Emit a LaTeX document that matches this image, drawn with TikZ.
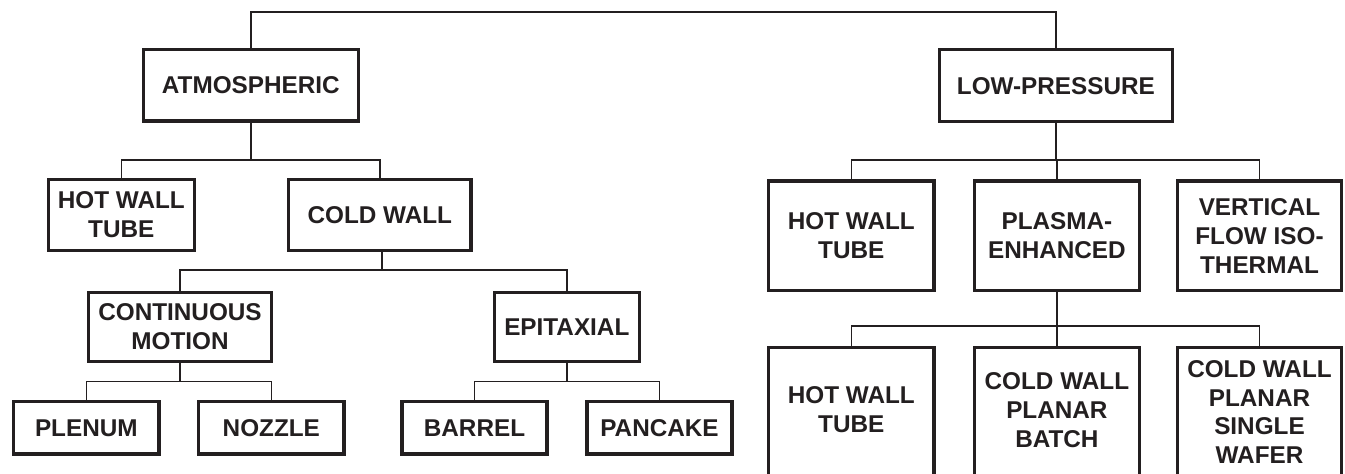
\documentclass[tikz,border=0pt]{standalone}
\usepackage{fontspec}
\setmainfont{Liberation Sans}
\definecolor{ink}{RGB}{35,31,32}
\begin{document}
\begin{tikzpicture}[x=1pt,y=-1pt,
  box/.style={draw=ink, line width=3.4pt, inner sep=0pt, align=center, text=ink,
    font=\bfseries\fontsize{24.3}{28.9}\selectfont},
  lbl/.style={align=center, text=ink, inner sep=0pt,
    font=\bfseries\fontsize{24.3}{28.9}\selectfont},
  conn/.style={draw=ink, line width=1.6pt}]
\fill[white] (0,0) rectangle (1345,474);
\useasboundingbox (0,0) rectangle (1345,474);
\clip (0,0) rectangle (1345,474);

% bus levels
\coordinate (yA) at (0,12);
\coordinate (yB) at (0,160);
\coordinate (yC) at (0,270);
\coordinate (yD) at (0,381.3);
\coordinate (yE) at (0,326);

% left tree
\node[box, minimum width=214.9pt, minimum height=71.3pt] (atm) at (250.8,85.3) {ATMOSPHERIC};
\node[box, minimum width=145.9pt, minimum height=71.2pt] (hwt1) at (121.3,215) {HOT WALL\\TUBE};
\node[box, minimum width=182.3pt, minimum height=71.2pt] (cw) at (379.8,215) {COLD WALL};
\node[box, minimum width=182.6pt, minimum height=69.2pt] (cm) at (180,327) {CONTINUOUS\\MOTION};
\node[box, minimum width=144.9pt, minimum height=69.2pt] (epi) at (566.8,327) {EPITAXIAL};
\node[box, minimum width=145.3pt, minimum height=52.3pt] (plen) at (86.3,427.8) {PLENUM};
\node[box, minimum width=145.3pt, minimum height=52.3pt] (noz) at (271.3,427.8) {NOZZLE};
\node[box, minimum width=145.3pt, minimum height=52.3pt] (bar) at (474.5,427.8) {BARREL};
\node[box, minimum width=145.3pt, minimum height=52.3pt] (pan) at (659.5,427.8) {PANCAKE};

% right tree
\node[box, minimum width=232.9pt, minimum height=71.9pt] (low) at (1055.9,85.7) {LOW-PRESSURE};
\node[box, minimum width=165.3pt, minimum height=109.6pt] (hwt2) at (851.3,235.8) {HOT WALL\\TUBE};
\node[box, minimum width=164.9pt, minimum height=109.6pt] (pe) at (1056.9,235.8) {PLASMA-\\ENHANCED};
\node[box, minimum width=164.2pt, minimum height=109.6pt] (vf) at (1259.5,235.8) {VERTICAL\\FLOW ISO-\\THERMAL};
\node[box, minimum width=165.3pt, minimum height=131.2pt,
  label={[lbl, yshift=3pt]center:{HOT WALL\\TUBE}}] (hwt3) at (851.3,413) {};
\node[box, minimum width=164.9pt, minimum height=131.2pt,
  label={[lbl, yshift=3pt]center:{COLD WALL\\PLANAR\\BATCH}}] (cwpb) at (1056.9,413) {};
\node[box, minimum width=164.2pt, minimum height=131.2pt,
  label={[lbl, yshift=1pt]center:{COLD WALL\\PLANAR\\SINGLE\\WAFER}}] (cwps) at (1259.5,413) {};

% connectors
\draw[conn] (atm.north) |- (low.north |- yA) -- (low.north);

\draw[conn] (atm.south) -- (atm.south |- yB);
\draw[conn] (hwt1.north) |- (cw.north |- yB) -- (cw.north);

\draw[conn] ([xshift=2pt]cw.south) -- ([xshift=2pt]cw.south |- yC);
\draw[conn] (cm.north) |- (epi.north |- yC) -- (epi.north);

\draw[conn] (cm.south) -- (cm.south |- yD);
\draw[conn] (plen.north) |- (noz.north |- yD) -- (noz.north);

\draw[conn] (epi.south) -- (epi.south |- yD);
\draw[conn] (bar.north) |- (pan.north |- yD) -- (pan.north);

\draw[conn] (low.south) -- (low.south |- yB);
\draw[conn] (hwt2.north) |- (vf.north |- yB) -- (vf.north);
\draw[conn] (pe.north) -- (pe.north |- yB);

\draw[conn] (pe.south) -- (pe.south |- yE);
\draw[conn] (hwt3.north) |- (cwps.north |- yE) -- (cwps.north);
\draw[conn] (cwpb.north) -- (cwpb.north |- yE);
\end{tikzpicture}
\end{document}
